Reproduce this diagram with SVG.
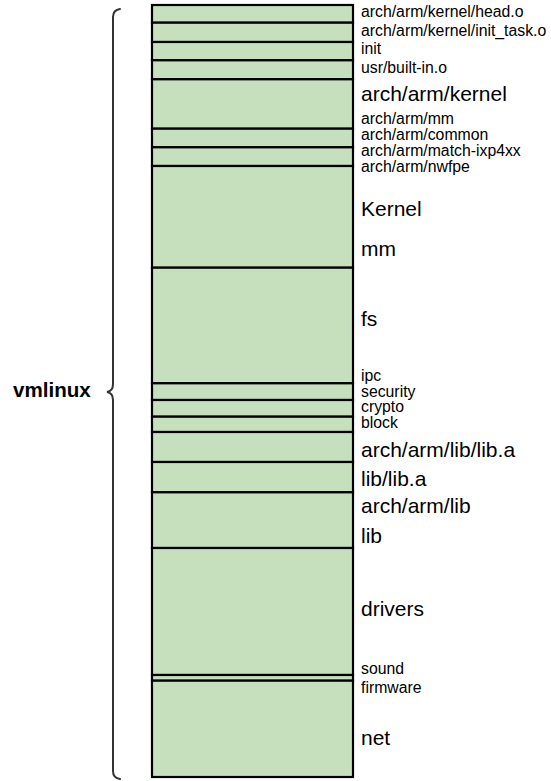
<svg xmlns="http://www.w3.org/2000/svg" width="551" height="781" viewBox="0 0 551 781">
<style>
.seg{fill:#c6e0be;stroke:#000;stroke-width:2.2}
.s{font-family:"Liberation Sans",Arial,sans-serif;font-size:15.8px;fill:#000}
.l{font-family:"Liberation Sans",Arial,sans-serif;font-size:21px;fill:#000}
.b{font-family:"Liberation Sans",Arial,sans-serif;font-size:20.6px;font-weight:bold;fill:#000}
.brace{fill:none;stroke:#333;stroke-width:2;stroke-linecap:round}
</style>
<rect x="0" y="0" width="551" height="781" fill="#fff"/>
<g id="segments">
<g id="seg1"><rect class="seg" x="152" y="5" width="201" height="17.7"/></g>
<g id="seg2"><rect class="seg" x="152" y="22.7" width="201" height="19.3"/></g>
<g id="seg3"><rect class="seg" x="152" y="42" width="201" height="18.3"/></g>
<g id="seg4"><rect class="seg" x="152" y="60.3" width="201" height="19"/></g>
<g id="seg5"><rect class="seg" x="152" y="79.3" width="201" height="49.4"/></g>
<g id="seg6"><rect class="seg" x="152" y="128.7" width="201" height="18.6"/></g>
<g id="seg7"><rect class="seg" x="152" y="147.3" width="201" height="18.7"/></g>
<g id="seg8"><rect class="seg" x="152" y="166" width="201" height="101.7"/></g>
<g id="seg9"><rect class="seg" x="152" y="267.7" width="201" height="115.6"/></g>
<g id="seg10"><rect class="seg" x="152" y="383.3" width="201" height="16.7"/></g>
<g id="seg11"><rect class="seg" x="152" y="400" width="201" height="16.7"/></g>
<g id="seg12"><rect class="seg" x="152" y="416.7" width="201" height="15.3"/></g>
<g id="seg13"><rect class="seg" x="152" y="432" width="201" height="30"/></g>
<g id="seg14"><rect class="seg" x="152" y="462" width="201" height="30.3"/></g>
<g id="seg15"><rect class="seg" x="152" y="492.3" width="201" height="55.7"/></g>
<g id="seg16"><rect class="seg" x="152" y="548" width="201" height="127"/></g>
<g id="seg17"><rect class="seg" x="152" y="675" width="201" height="5.7"/></g>
<g id="seg18"><rect class="seg" x="152" y="680.7" width="201" height="96.3"/></g>
</g>
<g id="labels">
<text class="s" x="361" y="17">arch/arm/kernel/head.o</text>
<text class="s" x="361" y="36">arch/arm/kernel/init_task.o</text>
<text class="s" x="361" y="54">init</text>
<text class="s" x="361" y="73.3">usr/built-in.o</text>
<text class="l" x="361" y="101">arch/arm/kernel</text>
<text class="s" x="361" y="124">arch/arm/mm</text>
<text class="s" x="361" y="140">arch/arm/common</text>
<text class="s" x="361" y="156">arch/arm/match-ixp4xx</text>
<text class="s" x="361" y="172">arch/arm/nwfpe</text>
<text class="l" x="361" y="216">Kernel</text>
<text class="l" x="361" y="256">mm</text>
<text class="l" x="361" y="326">fs</text>
<text class="s" x="361" y="380.7">ipc</text>
<text class="s" x="361" y="396.7">security</text>
<text class="s" x="361" y="412.3">crypto</text>
<text class="s" x="361" y="428.3">block</text>
<text class="l" x="361" y="457">arch/arm/lib/lib.a</text>
<text class="l" x="361" y="486">lib/lib.a</text>
<text class="l" x="361" y="512.5">arch/arm/lib</text>
<text class="l" x="361" y="542.5">lib</text>
<text class="l" x="361" y="616">drivers</text>
<text class="s" x="361" y="674">sound</text>
<text class="s" x="361" y="692.7">firmware</text>
<text class="l" x="361" y="745">net</text>
</g>
<g id="vmlinux">
<text class="b" x="13" y="397">vmlinux</text>
</g>
<g id="connectors">
<path class="brace" d="M120,9 Q113,10 113,17 L113,384 Q113,391 107,392 Q113,393 113,400 L113,771 Q113,778 120,779"/>
</g>
</svg>
